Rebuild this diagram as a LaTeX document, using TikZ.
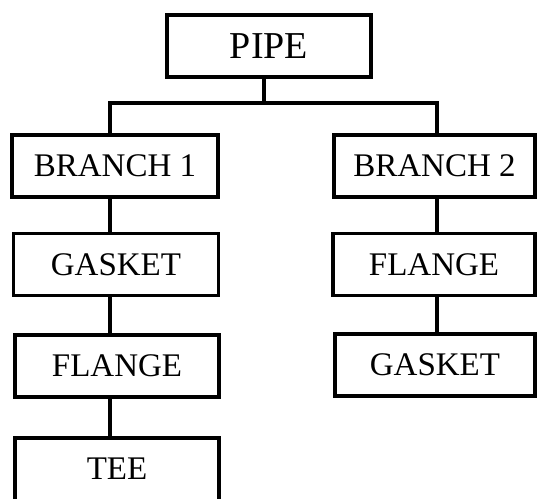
\documentclass[tikz,border=0pt]{standalone}
\usepackage{fontspec}
\setmainfont{Liberation Serif}
\begin{document}
\begin{tikzpicture}[x=1pt,y=-1pt,
  box/.style={draw, line width=3.5pt, minimum width=205pt, minimum height=62pt, inner sep=0pt, font=\fontsize{33}{40}\selectfont},
  link/.style={line width=3.5pt}]
\fill[white] (0,0) rectangle (542,499);
\useasboundingbox (0,0) rectangle (542,499);
\begin{scope}
\clip (0,0) rectangle (542,499);
\node[box, minimum width=204pt, font=\fontsize{38}{44}\selectfont] (pipe) at (269,46) {PIPE};
\node[box, minimum width=206pt] (b1) at (115,166) {BRANCH 1};
\node[box, minimum width=201pt] (b2) at (434.5,166) {BRANCH 2};
\node[box] (g1) at (116,264.5) {GASKET};
\node[box, minimum width=204pt] (f1) at (117,366) {FLANGE};
\node[box, minimum width=204pt, minimum height=70pt, text depth=9pt] (tee) at (117,473) {TEE};
\node[box, minimum width=202pt] (f2) at (434,264.5) {FLANGE};
\node[box, minimum width=200pt] (g2) at (435,365) {GASKET};
\coordinate (j) at (264,103);
\coordinate (jl) at (110,103);
\coordinate (jr) at (437,103);
\draw[link] (pipe.south -| j) -- (j);
\draw[link] (b1.north -| jl) -- (jl) -- (jr) -- (b2.north -| jr);
\draw[link] (b1.south -| jl) -- (g1.north -| jl);
\draw[link] (g1.south -| jl) -- (f1.north -| jl);
\draw[link] (f1.south -| jl) -- (tee.north -| jl);
\draw[link] (b2.south -| jr) -- (f2.north -| jr);
\draw[link] (f2.south -| jr) -- (g2.north -| jr);
\end{scope}
\end{tikzpicture}
\end{document}
